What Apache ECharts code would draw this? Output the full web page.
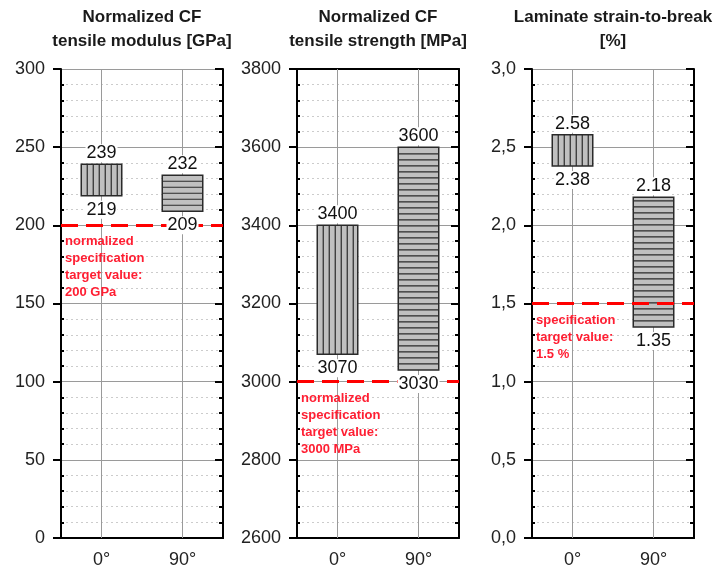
<!DOCTYPE html>
<html>
<head>
<meta charset="utf-8">
<title>CF properties</title>
<script src="https://cdn.jsdelivr.net/npm/echarts@6/dist/echarts.min.js"></script>
<style>
  html, body { margin: 0; padding: 0; background: #fff; }
  #main { width: 725px; height: 569px; }
</style>
</head>
<body>
<div id="main"></div>
<script>
// data
var categories = ['0°', '90°'];
var titles = ['Normalized CF\ntensile modulus [GPa]', 'Normalized CF\ntensile strength [MPa]', 'Laminate strain-to-break\n[%]'];
var modulusLow = [219, 209], modulusHigh = [239, 232];
var strengthLow = [3070, 3030], strengthHigh = [3400, 3600];
var strainLow = [2.38, 1.35], strainHigh = [2.58, 2.18];
var axisMin = [0, 2600, 0], axisMax = [300, 3800, 3], axisStep = [50, 200, 0.5];
var targets = [200, 3000, 1.5];
var targetText = [
  'normalized\nspecification\ntarget value:\n200 GPa',
  'normalized\nspecification\ntarget value:\n3000 MPa',
  'specification\ntarget value:\n1.5 %'
];
var lows = [modulusLow, strengthLow, strainLow];
var highs = [modulusHigh, strengthHigh, strainHigh];

var FONT = 'Arial, "Liberation Sans", sans-serif';
var gridLeft = [61, 297, 532];
var chart = echarts.init(document.getElementById('main'));

function fmtTick(p) {
  return function (v) {
    return p === 2 ? v.toFixed(1).replace('.', ',') : String(v);
  };
}
function fmtVal(p, v) {
  return p === 2 ? v.toFixed(2) : String(v);
}

function barItem(params, api) {
  var i = api.value(0);
  var top = api.coord([i, api.value(2)]);
  var bot = api.coord([i, api.value(1)]);
  var bw = api.size([1, 0])[0] * 0.5;
  var x0 = top[0] - bw / 2, x1 = top[0] + bw / 2;
  var y0 = top[1], y1 = bot[1];
  var kids = [{
    type: 'rect',
    shape: { x: x0, y: y0, width: bw, height: y1 - y0 },
    style: { fill: '#c0c0c0', stroke: '#2a2a2a', lineWidth: 1.5 }
  }];
  var s;
  if (i === 0) {
    for (s = x0 + 6; s < x1 - 2; s += 6) {
      kids.push({ type: 'line', shape: { x1: s, y1: y0, x2: s, y2: y1 }, style: { stroke: '#2a2a2a', lineWidth: 1.2 } });
    }
  } else {
    for (s = y1 - 6; s > y0 + 2; s -= 6) {
      kids.push({ type: 'line', shape: { x1: x0, y1: s, x2: x1, y2: s }, style: { stroke: '#2a2a2a', lineWidth: 1.2 } });
    }
  }
  return { type: 'group', children: kids };
}

function labelItemFor(p) {
  return function (params, api) {
    var i = api.value(0);
    var top = api.coord([i, api.value(2)]);
    var bot = api.coord([i, api.value(1)]);
    var st = { fill: '#111', fontSize: 18, fontFamily: FONT, align: 'center', backgroundColor: '#fff', padding: [0, 1] };
    return {
      type: 'group',
      children: [
        { type: 'text', x: top[0], y: top[1] - 2, style: Object.assign({ text: fmtVal(p, api.value(2)), verticalAlign: 'bottom' }, st) },
        { type: 'text', x: bot[0], y: bot[1] + 5, style: Object.assign({ text: fmtVal(p, api.value(1)), verticalAlign: 'top' }, st) }
      ]
    };
  };
}

var grid = [], xAxis = [], yAxis = [], series = [], graphic = [];
for (var p = 0; p < 3; p++) {
  grid.push({ left: gridLeft[p], top: 69, width: 162, height: 469 });

  xAxis.push({
    type: 'category', gridIndex: p, data: categories, position: 'bottom',
    axisLine: { lineStyle: { color: '#000', width: 2 } },
    axisTick: { alignWithLabel: true, length: 8, lineStyle: { color: '#000', width: 2 } },
    axisLabel: { color: '#222', fontSize: 18, fontFamily: FONT, margin: 13 },
    splitLine: { show: false }
  });
  xAxis.push({
    type: 'category', gridIndex: p, data: categories, position: 'top',
    axisLine: { lineStyle: { color: '#000', width: 2 } },
    axisTick: { alignWithLabel: true, inside: true, length: 8, lineStyle: { color: '#000', width: 2 } },
    axisLabel: { show: false },
    splitLine: { show: false }
  });

  var base = { type: 'value', gridIndex: p, min: axisMin[p], max: axisMax[p], interval: axisStep[p] };
  yAxis.push(Object.assign({}, base, {
    position: 'left',
    axisLine: { show: true, lineStyle: { color: '#000', width: 2 } },
    axisTick: { show: true, length: 8, lineStyle: { color: '#000', width: 2 } },
    axisLabel: { color: '#222', fontSize: 18, fontFamily: FONT, margin: 16, formatter: fmtTick(p) },
    splitLine: { show: true, lineStyle: { color: '#9a9a9a', width: 1 } },
    minorTick: { show: false },
    minorSplitLine: { show: true, lineStyle: { color: '#cccccc', width: 1, type: [2, 3] } }
  }));
  yAxis.push(Object.assign({}, base, {
    position: 'left',
    axisLine: { show: false },
    axisTick: { show: false, inside: true },
    axisLabel: { show: false },
    splitLine: { show: false },
    minorTick: { show: true, splitNumber: 5, length: 3, lineStyle: { color: '#000', width: 2 } }
  }));
  yAxis.push(Object.assign({}, base, {
    position: 'right',
    axisLine: { show: true, lineStyle: { color: '#000', width: 2 } },
    axisTick: { show: true, inside: true, length: 8, lineStyle: { color: '#000', width: 2 } },
    axisLabel: { show: false },
    splitLine: { show: false },
    minorTick: { show: true, splitNumber: 5, length: 4, lineStyle: { color: '#000', width: 2 } }
  }));

  var rows = categories.map(function (c, i) { return [i, lows[p][i], highs[p][i]]; });
  var xi = p * 2, yi = p * 3;

  series.push({
    type: 'line', xAxisIndex: xi, yAxisIndex: yi, data: [], z: 1, silent: true,
    markLine: {
      z: 1, symbol: 'none', silent: true, animation: false,
      label: { show: false },
      lineStyle: { color: '#9a9a9a', width: 1, type: 'solid' },
      data: categories.map(function (c) { return { xAxis: c }; })
    }
  });
  series.push({
    type: 'custom', xAxisIndex: xi, yAxisIndex: yi, z: 2,
    encode: { x: 0, y: [1, 2] }, data: rows, renderItem: barItem
  });
  series.push({
    type: 'line', xAxisIndex: xi, yAxisIndex: yi, data: [], z: 3, silent: true,
    markLine: {
      z: 3, symbol: 'none', silent: true, animation: false,
      lineStyle: { color: '#ff0000', width: 3, type: [17, 8] },
      label: {
        show: true, position: 'insideStartBottom', formatter: targetText[p], distance: [4, 8],
        color: '#ff1e32', fontWeight: 'bold', fontSize: 13, fontFamily: FONT, lineHeight: 17, align: 'left'
      },
      data: [{ yAxis: targets[p] }]
    }
  });
  series.push({
    type: 'custom', xAxisIndex: xi, yAxisIndex: yi, z: 6,
    encode: { x: 0, y: [1, 2] }, data: rows, renderItem: labelItemFor(p)
  });

  graphic.push({
    type: 'text', x: gridLeft[p] + 81, y: 5,
    style: { text: titles[p], align: 'center', fontSize: 17, fontWeight: 'bold', fontFamily: FONT, lineHeight: 24, fill: '#1a1a1a' }
  });
}

chart.setOption({
  animation: false,
  backgroundColor: '#fff',
  grid: grid,
  xAxis: xAxis,
  yAxis: yAxis,
  series: series,
  graphic: graphic
});
</script>
</body>
</html>
